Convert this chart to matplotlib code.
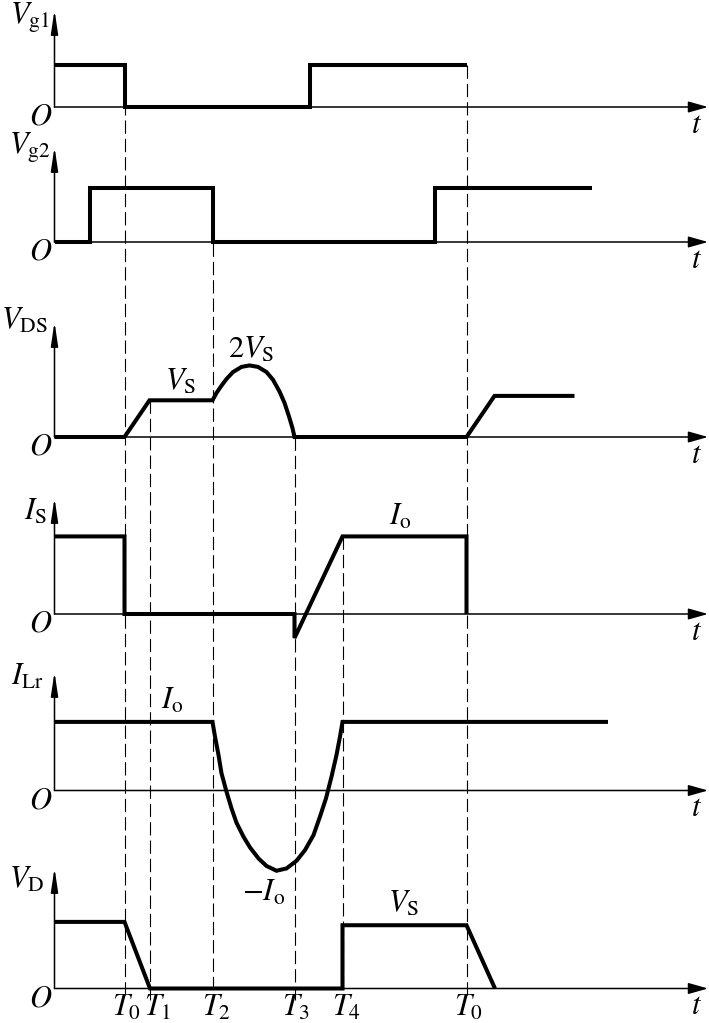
import matplotlib
matplotlib.use('Agg')
import matplotlib.pyplot as plt
from matplotlib.transforms import Affine2D

plt.rcParams['mathtext.fontset'] = 'stix'
plt.rcParams['font.family'] = ['STIXGeneral', 'DejaVu Serif']

# switching instants (time measured from the vertical axes)
T_LABELS = ['$T_0$', '$T_1$', '$T_2$', '$T_3$', '$T_4$', '$T_0$']
T_VALUES = [70, 95, 158, 240, 288, 412]

# gate drive of switch 1
vg1_t = [0, 70, 70, 255.5, 255.5, 412]
vg1_v = [1, 1, 0, 0, 1, 1]

# gate drive of switch 2
vg2_t = [0, 35, 35, 158, 158, 380.5, 380.5, 537]
vg2_v = [0, 0, 1, 1, 0, 0, 1, 1]

# drain-source voltage (units of Vs), resonant hump
vds_t = [0, 70, 95, 158, 162, 167, 172, 178.5, 187, 195, 203.5, 212, 218.5,
         225, 230, 234.5, 238, 240, 412, 440, 520]
vds_v = [0, 0, 1, 1.0, 1.2, 1.4, 1.58, 1.77, 1.91, 1.95, 1.91, 1.77, 1.56,
         1.24, 0.93, 0.56, 0.24, 0, 0, 1.12, 1.12]

# switch current (units of Io)
is_t = [0, 70, 70, 240, 240, 288, 412, 412]
is_v = [1, 1, 0, 0, -0.31, 1, 1, 0]

# resonant inductor current (units of Io)
ilr_t = [0, 158, 160.5, 164, 167, 172, 177, 182, 189, 195.5, 204, 212, 222,
         232, 242, 250.5, 259, 265.5, 271.5, 277, 282, 285.5, 288, 553.5]
ilr_v = [1, 1.0, 0.785, 0.518, 0.251, -0.018, -0.26, -0.47, -0.674, -0.83,
         -0.99, -1.10, -1.17, -1.136, -1.025, -0.869, -0.65, -0.38, -0.114,
         0.2, 0.518, 0.785, 1.0, 1.0]

# diode voltage (units of Vs)
vd_t = [0, 70, 95.5, 288, 288, 412, 440.5]
vd_v = [1, 1, 0, 0, 0.95, 0.95, 0]

signals = [(vg1_t, vg1_v), (vg2_t, vg2_v), (vds_t, vds_v),
           (is_t, is_v), (ilr_t, ilr_v), (vd_t, vd_v)]
names = [r'$V_{\rm g1}$', r'$V_{\rm g2}$', r'$V_{\rm DS}$',
         r'$I_{\rm S}$', r'$I_{\rm Lr}$', r'$V_{\rm D}$']

# layout in pixels: baseline, px per unit, top of y axis, label pos
X0 = 54.5
bases = [107, 242, 437, 614, 790.5, 988.5]
scales = [42, 54, 36.7, 77.6, 68.6, 66.6]
tops = [10, 147, 322, 498, 672, 868]
name_pos = [(50, 18), (50, 148), (48, 321), (47, 512), (44, 677), (44, 880)]
t_lab_shift = [-13, -6, -10, -12, -10, -13]

fig = plt.figure(figsize=(7.09, 10.23), dpi=100)
ax = fig.add_axes([0, 0, 1, 1])
ax.set_xlim(-X0, 709 - X0)
ax.set_ylim(1023, 0)
ax.axis('off')

FS = 22
for i in range(6):
    tr = Affine2D().scale(1, -scales[i]).translate(0, bases[i]) + ax.transData
    b = bases[i]
    # time axis
    ax.annotate('', xy=(708 - X0, b), xytext=(0, b),
                arrowprops=dict(arrowstyle='-|>,head_length=0.6,head_width=0.17',
                                lw=1.1, color='k', shrinkA=0, shrinkB=0,
                                mutation_scale=20))
    # value axis
    ax.annotate('', xy=(0, tops[i]), xytext=(0, b),
                arrowprops=dict(arrowstyle='-|>,head_length=0.8,head_width=0.12',
                                lw=1.1, color='k', shrinkA=0, shrinkB=0,
                                mutation_scale=18))
    t, v = signals[i]
    ax.plot(t, v, color='k', lw=2.9, solid_joinstyle='miter',
            solid_capstyle='butt', transform=tr, zorder=3)
    ax.text(name_pos[i][0] - X0, name_pos[i][1], names[i], fontsize=FS,
            ha='right', va='center')
    ax.text(41 - X0, b + 11, '$O$', fontsize=FS, ha='center', va='center')
    ax.text(697 - X0, b + 19, '$t$', fontsize=FS, ha='center', va='center')

# dashed guide lines: (panel, level) where each one starts
dash_start = [(0, 1), (2, 1), (1, 1), (2, 0), (3, 1), (0, 1)]
for tv, (p, lev), lab, dx in zip(T_VALUES, dash_start, T_LABELS, t_lab_shift):
    y0 = bases[p] - scales[p] * lev
    ax.plot([tv, tv], [y0, 1000], color='k', lw=0.8,
            linestyle=(0, (12, 4.5)), zorder=1)
    ax.text(tv + dx, 1008, lab, fontsize=FS, ha='left', va='center')

# value annotations
ax.text(181 - X0, 382, r'$V_{\rm S}$', fontsize=FS, ha='center', va='center')
ax.text(251 - X0, 350, r'$2V_{\rm S}$', fontsize=FS, ha='center', va='center')
ax.text(400 - X0, 517, r'$I_{\rm o}$', fontsize=FS, ha='center', va='center')
ax.text(172 - X0, 701, r'$I_{\rm o}$', fontsize=FS, ha='center', va='center')
ax.text(264 - X0, 893, r'$-I_{\rm o}$', fontsize=FS, ha='center', va='center')
ax.text(404 - X0, 904, r'$V_{\rm S}$', fontsize=FS, ha='center', va='center')

fig.savefig('out.png', dpi=100, facecolor='white')
